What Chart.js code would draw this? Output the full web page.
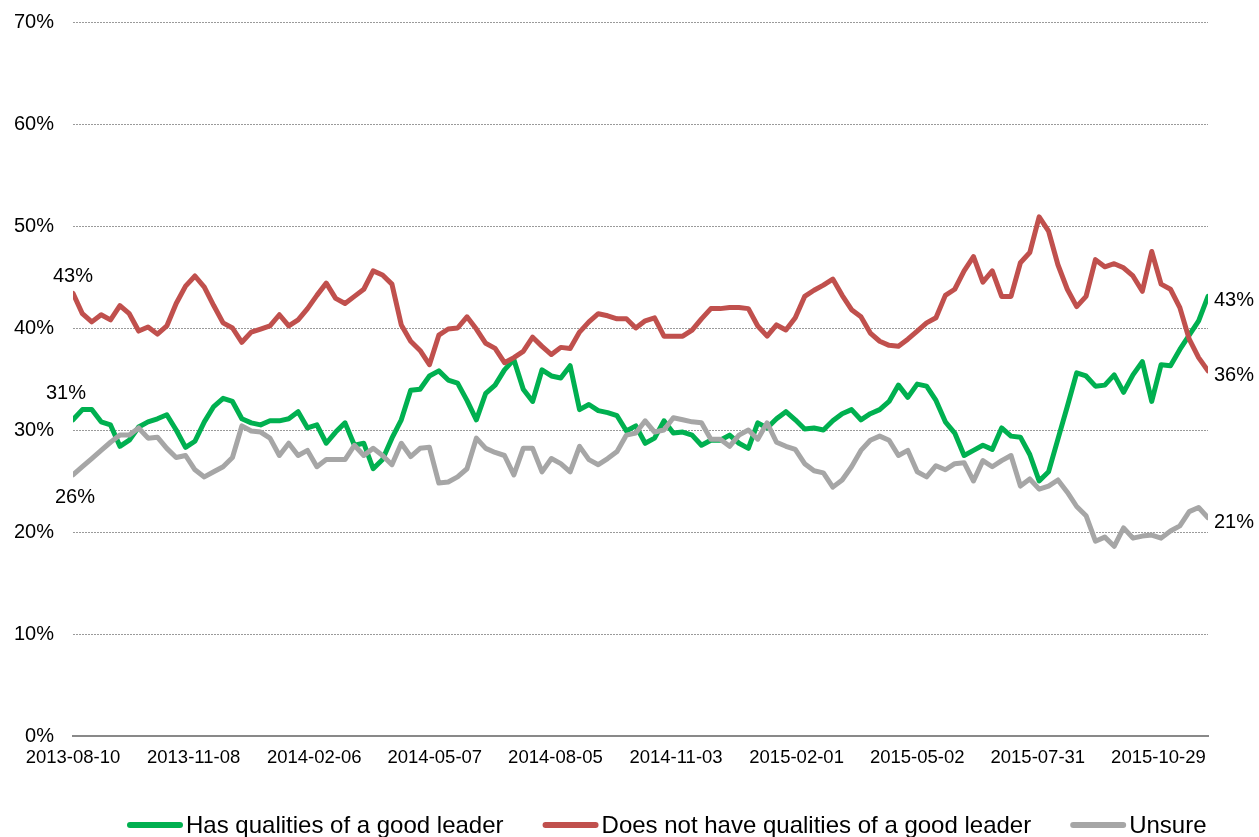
<!DOCTYPE html>
<html>
<head>
<meta charset="utf-8">
<script src="https://cdn.jsdelivr.net/npm/chart.js@4.4.1/dist/chart.umd.min.js"></script>
<style>
  html, body { margin: 0; padding: 0; background: #fff; }
  #wrap { width: 1259px; height: 837px; }
</style>
</head>
<body>
<div id="wrap"><canvas id="leader"></canvas></div>
<script>
// weekly poll, first week 2013-08-10, one value per week (122 weeks)
var daysPerWeek = 7;
var xTickLabels = ['2013-08-10', '2013-11-08', '2014-02-06', '2014-05-07', '2014-08-05',
  '2014-11-03', '2015-02-01', '2015-05-02', '2015-07-31', '2015-10-29'];
var yTicks = [0, 10, 20, 30, 40, 50, 60, 70];

var hasQualities = [
  31.0, 32.0, 32.0, 30.8, 30.5, 28.4, 29.0, 30.3, 30.8, 31.1,
  31.5, 30.0, 28.3, 28.9, 30.8, 32.3, 33.1, 32.8, 31.1, 30.7,
  30.5, 30.9, 30.9, 31.1, 31.8, 30.2, 30.5, 28.7, 29.8, 30.7,
  28.5, 28.7, 26.2, 27.1, 29.2, 31.0, 33.9, 34.0, 35.3, 35.8,
  34.9, 34.6, 32.9, 31.0, 33.6, 34.4, 35.9, 36.9, 34.0, 32.8,
  35.9, 35.3, 35.1, 36.3, 32.0, 32.5, 31.9, 31.7, 31.4, 29.9,
  30.4, 28.7, 29.2, 30.9, 29.7, 29.8, 29.5, 28.5, 29.0, 29.0,
  29.5, 28.7, 28.2, 30.7, 30.2, 31.1, 31.8, 31.0, 30.1, 30.2,
  30.0, 30.9, 31.6, 32.0, 31.0, 31.6, 32.0, 32.8, 34.4, 33.2,
  34.5, 34.3, 32.9, 30.8, 29.7, 27.5, 28.0, 28.5, 28.1, 30.2,
  29.4, 29.3, 27.6, 25.0, 25.9, 29.1, 32.3, 35.6, 35.3, 34.3,
  34.4, 35.4, 33.7, 35.4, 36.7, 32.8, 36.4, 36.3, 37.9, 39.3,
  40.7, 43.1
];
var notQualities = [
  43.4, 41.4, 40.6, 41.3, 40.8, 42.2, 41.4, 39.7, 40.1, 39.4,
  40.2, 42.4, 44.1, 45.1, 44.0, 42.2, 40.5, 40.0, 38.6, 39.6,
  39.9, 40.2, 41.3, 40.2, 40.8, 41.9, 43.2, 44.4, 42.9, 42.4,
  43.1, 43.8, 45.6, 45.2, 44.3, 40.3, 38.7, 37.8, 36.4, 39.3,
  39.9, 40.0, 41.1, 39.9, 38.5, 38.0, 36.6, 37.1, 37.7, 39.1,
  38.2, 37.4, 38.1, 38.0, 39.6, 40.6, 41.4, 41.2, 40.9, 40.9,
  40.0, 40.7, 41.0, 39.2, 39.2, 39.2, 39.8, 40.9, 41.9, 41.9,
  42.0, 42.0, 41.9, 40.2, 39.2, 40.3, 39.8, 41.0, 43.1, 43.7,
  44.2, 44.8, 43.2, 41.8, 41.1, 39.5, 38.7, 38.3, 38.2, 38.9,
  39.7, 40.5, 41.0, 43.2, 43.8, 45.6, 47.0, 44.5, 45.6, 43.1,
  43.1, 46.4, 47.4, 50.9, 49.5, 46.2, 43.8, 42.1, 43.1, 46.7,
  46.0, 46.3, 45.9, 45.1, 43.6, 47.5, 44.3, 43.8, 42.0, 38.9,
  37.1, 35.8
];
var unsure = [
  25.6, 26.4, 27.2, 28.0, 28.8, 29.5, 29.5, 30.2, 29.2, 29.3,
  28.2, 27.3, 27.5, 26.1, 25.4, 25.9, 26.4, 27.3, 30.4, 29.9,
  29.8, 29.2, 27.5, 28.7, 27.5, 28.0, 26.4, 27.1, 27.1, 27.1,
  28.5, 27.5, 28.2, 27.5, 26.6, 28.7, 27.4, 28.2, 28.3, 24.8,
  24.9, 25.4, 26.2, 29.2, 28.2, 27.8, 27.5, 25.6, 28.2, 28.2,
  25.9, 27.2, 26.7, 25.9, 28.4, 27.1, 26.6, 27.2, 27.9, 29.5,
  29.7, 30.9, 29.8, 30.0, 31.2, 31.0, 30.8, 30.7, 29.1, 29.1,
  28.4, 29.5, 30.0, 29.1, 30.7, 28.8, 28.4, 28.1, 26.7, 26.0,
  25.8, 24.4, 25.1, 26.4, 28.0, 29.0, 29.4, 29.0, 27.5, 28.0,
  25.9, 25.4, 26.5, 26.1, 26.7, 26.8, 25.0, 27.0, 26.4, 27.0,
  27.5, 24.5, 25.2, 24.2, 24.5, 25.1, 23.9, 22.5, 21.6, 19.1,
  19.5, 18.6, 20.4, 19.4, 19.6, 19.7, 19.4, 20.1, 20.6, 22.0,
  22.4, 21.4
];

var FONT = "'Liberation Sans', Arial, sans-serif";
var lastDay = (hasQualities.length - 1) * daysPerWeek;

function series(values) {
  return values.map((v, i) => ({x: i * daysPerWeek, y: v}));
}

function lineSet(label, values, color, order) {
  return {
    label: label, data: series(values), borderColor: color, backgroundColor: color,
    borderWidth: 5, pointRadius: 0, pointHoverRadius: 0, tension: 0,
    borderJoinStyle: 'round', borderCapStyle: 'round', order: order
  };
}

// first / last value labels, as in the original
var endLabels = {
  id: 'endLabels',
  afterDatasetsDraw(chart) {
    var ctx = chart.ctx;
    var startOffsets = [[-7, -28], [0, -18], [2, 21]];
    ctx.save();
    ctx.font = '20px ' + FONT;
    ctx.fillStyle = '#000';
    ctx.textBaseline = 'alphabetic';
    chart.data.datasets.forEach((ds, i) => {
      var pts = chart.getDatasetMeta(i).data;
      var first = pts[0], last = pts[pts.length - 1];
      var v0 = Math.round(ds.data[0].y) + '%';
      var v1 = Math.round(ds.data[ds.data.length - 1].y) + '%';
      ctx.textAlign = 'center';
      ctx.fillText(v0, first.x + startOffsets[i][0], first.y + startOffsets[i][1] + 7);
      ctx.textAlign = 'left';
      ctx.fillText(v1, last.x + 6, last.y + 3 + 7);
    });
    ctx.restore();
  }
};

// legend along the bottom: thick line sample + text
var lineLegend = {
  id: 'lineLegend',
  afterDraw(chart) {
    var ctx = chart.ctx;
    var x = 127, y = 825;
    ctx.save();
    ctx.font = '24px ' + FONT;
    ctx.textBaseline = 'alphabetic';
    ctx.textAlign = 'left';
    chart.data.datasets.forEach(ds => {
      ctx.strokeStyle = ds.borderColor;
      ctx.lineWidth = 6;
      ctx.lineCap = 'round';
      ctx.beginPath();
      ctx.moveTo(x + 3, y);
      ctx.lineTo(x + 53, y);
      ctx.stroke();
      ctx.fillStyle = '#000';
      ctx.fillText(ds.label, x + 59, y + 7.5);
      x += 59 + ctx.measureText(ds.label).width + 39;
    });
    ctx.restore();
  }
};

new Chart(document.getElementById('leader'), {
  type: 'line',
  data: {
    datasets: [
      lineSet('Has qualities of a good leader', hasQualities, '#00B050', 3),
      lineSet('Does not have qualities of a good leader', notQualities, '#C0504D', 2),
      lineSet('Unsure', unsure, '#A6A6A6', 1)
    ]
  },
  options: {
    responsive: true, maintainAspectRatio: false, animation: false,
    layout: {padding: {top: 22, right: 51, bottom: 61, left: 0}},
    plugins: {legend: {display: false}, tooltip: {enabled: false}},
    scales: {
      x: {
        type: 'linear', min: 0, max: lastDay,
        afterBuildTicks: s => { s.ticks = xTickLabels.map((t, k) => ({value: k * 90})); },
        afterFit: s => { s.height = 40; },
        grid: {display: false, drawTicks: false},
        border: {display: true, color: '#898989', width: 2},
        ticks: {
          autoSkip: false, maxRotation: 0, padding: 11, color: '#000',
          font: {family: FONT, size: 18.5},
          callback: (v, k) => xTickLabels[k]
        }
      },
      y: {
        min: 0, max: 70,
        afterBuildTicks: s => { s.ticks = yTicks.map(v => ({value: v})); },
        afterFit: s => { s.width = 73; s.paddingTop = 0; s.paddingBottom = 0; },
        border: {display: false, dash: [2, 1]},
        grid: {
          drawTicks: false, lineWidth: 1,
          color: c => c.tick.value === 0 ? 'rgba(0,0,0,0)' : '#9a9a9a'
        },
        ticks: {
          padding: 19, color: '#000',
          font: {family: FONT, size: 20},
          callback: v => v + '%'
        }
      }
    }
  },
  plugins: [endLabels, lineLegend]
});
</script>
</body>
</html>
